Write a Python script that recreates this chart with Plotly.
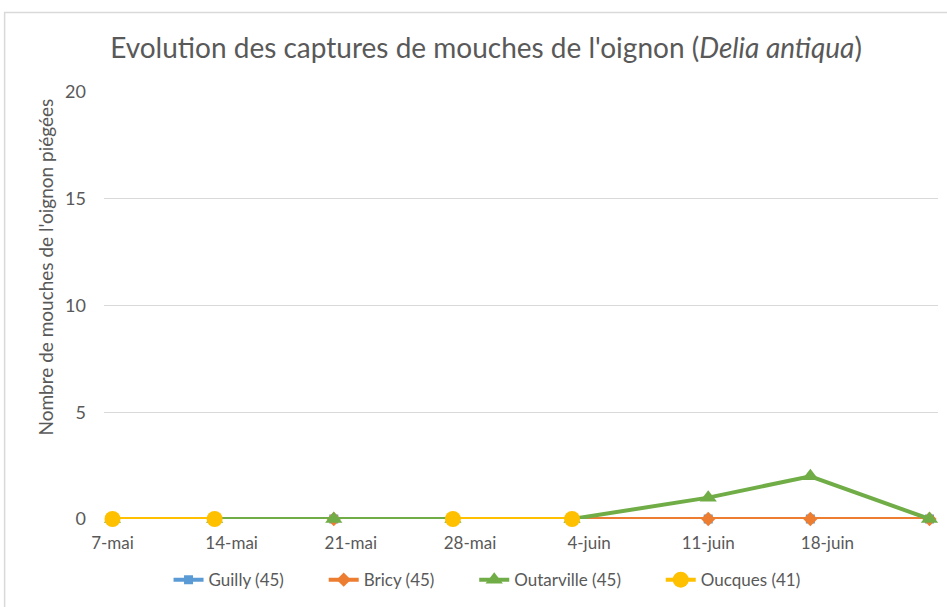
import plotly.graph_objects as go

dates = ['2024-05-07', '2024-05-13', '2024-05-20', '2024-05-27',
         '2024-06-03', '2024-06-11', '2024-06-17', '2024-06-24']
guilly = [0, 0, 0, 0, 0, 0, 0, 0]
bricy = [0, 0, 0, 0, 0, 0, 0, 0]
outarville = [0, 0, 0, 0, 0, 1, 2, 0]
oucques = [0, 0, None, 0, 0, None, None, None]

tick_dates = ['2024-05-07', '2024-05-14', '2024-05-21', '2024-05-28',
              '2024-06-04', '2024-06-11', '2024-06-18']
tick_text = ['7-mai', '14-mai', '21-mai', '28-mai', '4-juin', '11-juin', '18-juin']

series_names = ["Guilly (45)", "Bricy (45)", "Outarville (45)", "Oucques (41)"]

FONT = "Lato"
GRAY = "#595959"
PAD = "\u00a0" * 8

styles = [
    ("#5B9BD5", "square", 9),
    ("#ED7D31", "diamond", 11),
    ("#70AD47", "triangle-up", 15),
    ("#FFC000", "circle", 16),
]
values = [guilly, bricy, outarville, oucques]

fig = go.Figure()
for i, (name, vals, (col, sym, sz)) in enumerate(zip(series_names, values, styles)):
    label = name + (PAD if i < len(series_names) - 1 else "")
    fig.add_trace(go.Scatter(
        x=dates, y=vals, name=label, mode="lines+markers",
        line=dict(color=col, width=4),
        marker=dict(symbol=sym, size=sz, color=col),
        connectgaps=False, cliponaxis=False,
    ))

W, H = 947, 607
L, R = 103.5, 938.5
T, B = 92, 521.5
pw, ph = R - L, B - T

def px_x(x):
    return (x - L) / pw

def px_y(y):
    return (B - y) / ph

fig.update_layout(
    width=W, height=H,
    margin=dict(l=L, r=W - R, t=T, b=H - B, pad=0),
    paper_bgcolor="white", plot_bgcolor="white",
    font=dict(family=FONT, color=GRAY, size=17),
    title=dict(
        text="Evolution des captures de mouches de l'oignon (<i>Delia antiqua</i>)",
        x=486 / W, xanchor="center", y=1 - 48 / H, yanchor="middle",
        font=dict(family=FONT, size=28, color=GRAY),
    ),
    xaxis=dict(
        type="date",
        range=['2024-05-06 12:00', '2024-06-24 12:00'],
        tickvals=tick_dates, ticktext=tick_text,
        showgrid=False, zeroline=False, showline=False,
        ticks="", ticklabelstandoff=12,
        tickfont=dict(size=17, color=GRAY),
    ),
    yaxis=dict(
        range=[0, 20], tickvals=[0, 5, 10, 15, 20],
        showgrid=True, gridcolor="#D9D9D9", gridwidth=1,
        zeroline=False, showline=False, ticks="",
        ticklabelstandoff=17,
        tickfont=dict(size=18, color=GRAY),
    ),
    legend=dict(
        orientation="h", x=px_x(487), xanchor="center",
        y=px_y(583), yanchor="middle",
        font=dict(size=17, color=GRAY),
        itemwidth=30,
    ),
    showlegend=True,
)

fig.add_annotation(
    text="Nombre de mouches de l'oignon piégées",
    textangle=-90, x=px_x(45), y=px_y(268),
    xref="paper", yref="paper", showarrow=False,
    font=dict(family=FONT, size=19, color=GRAY),
    xanchor="center", yanchor="middle",
)

fig.add_shape(
    type="rect", xref="paper", yref="paper",
    x0=px_x(4), x1=px_x(990), y0=px_y(650), y1=px_y(12),
    line=dict(color="#D9D9D9", width=1.5), fillcolor="rgba(0,0,0,0)",
    layer="below",
)

fig.write_html("out.html", config={"displayModeBar": False},
               post_script="document.body.style.margin='0';")
